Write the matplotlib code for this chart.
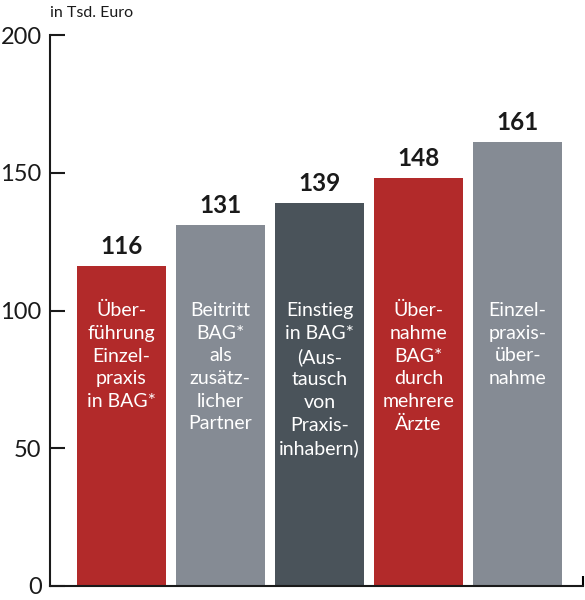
import matplotlib.pyplot as plt

values = [116, 131, 139, 148, 161]
labels = [
    "Über-\nführung\nEinzel-\npraxis\nin BAG*",
    "Beitritt\nBAG*\nals\nzusätz-\nlicher\nPartner",
    "Einstieg\nin BAG*\n(Aus-\ntausch\nvon\nPraxis-\ninhabern)",
    "Über-\nnahme\nBAG*\ndurch\nmehrere\nÄrzte",
    "Einzel-\npraxis-\nüber-\nnahme",
]
colors = ["#B22A2A", "#858B94", "#4A535A", "#B22A2A", "#858B94"]
yticks = [0, 50, 100, 150, 200]
unit = "in Tsd. Euro"

plt.rcParams["font.family"] = ["Lato", "DejaVu Sans"]

fig = plt.figure(figsize=(5.85, 6.0), dpi=100)
ax = fig.add_axes([50 / 585, 14 / 600, 533 / 585, 551 / 600])

x = list(range(len(values)))
ax.bar(x, values, width=0.9, color=colors, zorder=2)

for xi, v, lab in zip(x, values, labels):
    ax.text(xi, v + 3, str(v), ha="center", va="bottom", fontsize=17.5,
            fontweight="bold", color="#1a1a1a")
    ax.text(xi, 103, lab, ha="center", va="top", fontsize=14,
            color="white", linespacing=1.4)

ax.set_xlim(-0.72, 4.66)
ax.set_ylim(0, 200)
ax.set_yticks(yticks)
ax.set_xticks([4.66])
ax.set_xticklabels([""])
ax.tick_params(axis="y", direction="in", length=11, width=1.5,
               labelsize=17, pad=6, colors="#1a1a1a")
ax.tick_params(axis="x", direction="in", length=7, width=1.5)
for side in ("top", "right"):
    ax.spines[side].set_visible(False)
for side in ("left", "bottom"):
    ax.spines[side].set_linewidth(1.5)
    ax.spines[side].set_color("#1a1a1a")

fig.text(50 / 585, 1 - 13 / 600, unit, ha="left", va="center",
         fontsize=11.5, color="#1a1a1a")

fig.savefig("out.png", dpi=100)
